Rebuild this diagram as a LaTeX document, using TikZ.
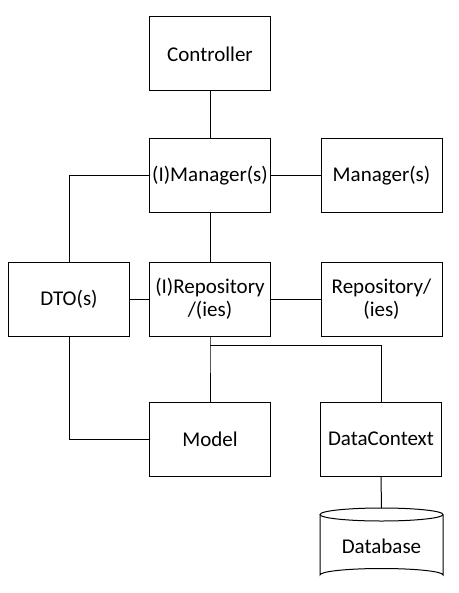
\documentclass[tikz,border=0pt]{standalone}
\usepackage{fontspec}
\setmainfont{Carlito}
\begin{document}
\begin{tikzpicture}[x=1pt,y=-1pt]
					\tikzstyle{every node}+=[inner sep=0pt, font=\fontsize{21}{23.5}\selectfont]
					\tikzstyle{box}=[draw, line width=1pt, minimum width=121pt, minimum height=74pt, align=center]
					\tikzstyle{wire}=[line width=1pt]
					\useasboundingbox (0,0) rectangle (458,593);
					\node [box] (ctrl) at (210,54) {Controller};
					\node [box] (imgr) at (210,176) {(I)Manager(s)};
					\node [box] (mgr) at (381.5,176) {Manager(s)};
					\node [box] (dto) at (69,299) {DTO(s)};
					\node [box] (irepo) at (210,299) {(I)Repository\\/(ies)};
					\node [box] (repo) at (381.5,299) {Repository/\\(ies)};
					\node [box] (model) at (210,439) {Model};
					\node [box] (dctx) at (381,439) {DataContext};
					% database cylinder
					\node (db) at (381.5,546) {Database};
					\coordinate (dbtop) at (381.5,508);
					\draw [wire] (381.5,514.5) ellipse (61.5 and 6.5);
					\draw [wire] (320,514.5) -- (320,575) arc (180:360:61.5 and 6.5) -- (443,514.5);
					\coordinate (j) at (210,345);
					\draw [wire] (ctrl) -- (imgr);
					\draw [wire] (imgr) -- (mgr);
					\draw [wire] (imgr) -- (irepo);
					\draw [wire] (dto.north) |- (imgr.west);
					\draw [wire] (dto) -- (irepo);
					\draw [wire] (irepo) -- (repo);
					\draw [wire] (irepo.south) -- (j) -- (model.north);
					\draw [wire] (j) -| (dctx.north);
					\draw [wire] (dto.south) |- (model.west);
					\draw [wire] (dctx.south) -- (dbtop);
				\end{tikzpicture}
\end{document}
